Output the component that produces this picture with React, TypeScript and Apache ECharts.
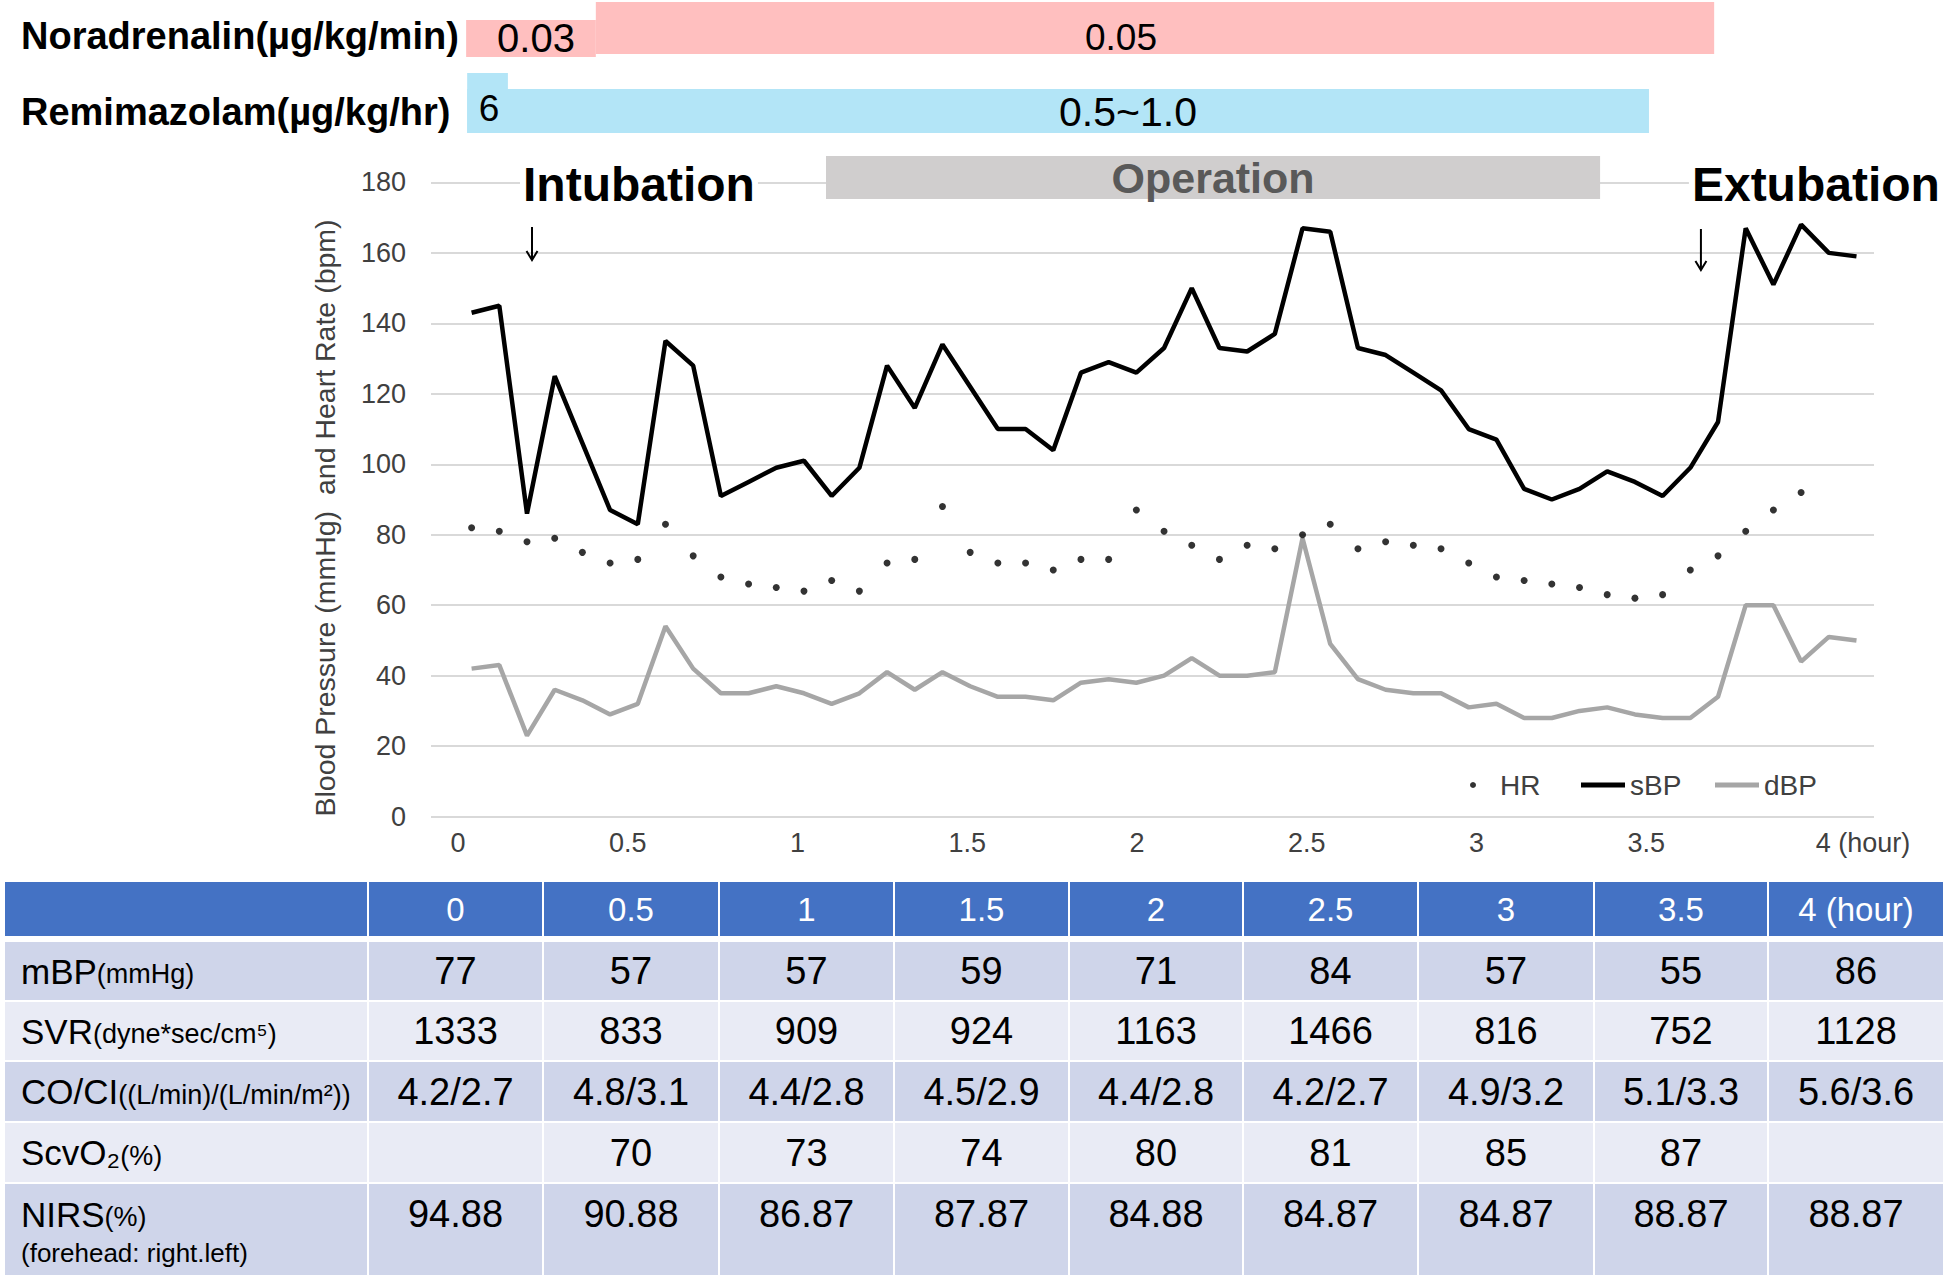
import React, { useEffect, useRef } from 'react';
import * as echarts from 'echarts';

const FONT = "'Liberation Sans', Arial, Helvetica, sans-serif";

// ---------- DATA (5-minute readings) ----------
const sbp = [143, 145, 86, 125, 106, 87, 83, 135, 128, 91, 95, 99, 101, 91, 99, 128, 116, 134, 122, 110,
  110, 104, 126, 129, 126, 133, 150, 133, 132, 137, 167, 166, 133, 131, 126, 121, 110, 107, 93, 90,
  93, 98, 95, 91, 99, 112, 167, 151, 168, 160, 159];
const dbp = [42, 43, 23, 36, 33, 29, 32, 54, 42, 35, 35, 37, 35, 32, 35, 41, 36, 41, 37, 34,
  34, 33, 38, 39, 38, 40, 45, 40, 40, 41, 79, 49, 39, 36, 35, 35, 31, 32, 28, 28,
  30, 31, 29, 28, 28, 34, 60, 60, 44, 51, 50];
const hr = [82, 81, 78, 79, 75, 72, 73, 83, 74, 68, 66, 65, 64, 67, 64, 72, 73, 88, 75, 72,
  72, 70, 73, 73, 87, 81, 77, 73, 77, 76, 80, 83, 76, 78, 77, 76, 72, 68, 67, 66,
  65, 63, 62, 63, 70, 74, 81, 87, 92, null, null];

const hourTicks = [0, 0.5, 1, 1.5, 2, 2.5, 3, 3.5, 4];
const yTicks = { min: 0, max: 180, interval: 20 };

// drug infusions / events (hours)
const noradrenalin = [
  { from: 0.024, to: 0.406, dose: '0.03' },
  { from: 0.406, to: 3.7, dose: '0.05' },
];
const remimazolam = [
  { from: 0.027, to: 0.147, dose: '6' },
  { from: 0.027, to: 3.508, dose: '0.5~1.0' },
];
const operation = { from: 1.084, to: 3.364, name: 'Operation' };
const events = [
  { name: 'Intubation', time: 0.218 },
  { name: 'Extubation', time: 3.661 },
];

// table
const tableHeaders = ['0', '0.5', '1', '1.5', '2', '2.5', '3', '3.5', '4 (hour)'];
const mbpValues = ['77', '57', '57', '59', '71', '84', '57', '55', '86'];
const svrValues = ['1333', '833', '909', '924', '1163', '1466', '816', '752', '1128'];
const coCiValues = ['4.2/2.7', '4.8/3.1', '4.4/2.8', '4.5/2.9', '4.4/2.8', '4.2/2.7', '4.9/3.2', '5.1/3.3', '5.6/3.6'];
const scvo2Values = ['', '70', '73', '74', '80', '81', '85', '87', ''];
const nirsValues = ['94.88', '90.88', '86.87', '87.87', '84.88', '84.87', '84.87', '88.87', '88.87'];

const tableRows = [
  { label: '{b|mBP}{s|(mmHg)}', values: mbpValues },
  { label: '{b|SVR}{s|(dyne*sec/cm⁵)}', values: svrValues },
  { label: '{b|CO/CI}{s|((L/min)/(L/min/m²))}', values: coCiValues },
  { label: '{b|ScvO₂}{s|(%)}', values: scvo2Values },
  { label: '{b|NIRS}{s|(%)}', values: nirsValues, note: '(forehead: right.left)' },
];

// ---------- LAYOUT ----------
const W = 1946;
const H = 1279;
const GRID = { left: 431, right: 72, top: 182.4, bottom: 462.4 };
const IDX_RANGE = { min: -1.466, max: 50.632 };
const HOUR_RANGE = { min: -0.0795, max: 4.1708 };
const COL_EDGES = [4, 368, 543, 719, 894, 1069, 1243, 1418, 1594, 1768, 1944];
const HEADER_BAND = [882, 936];
const ROW_BANDS = [[942, 1000], [1002, 1060], [1062, 1121], [1123, 1182], [1184, 1275]];
const ROW_FILLS = ['#CFD5EA', '#E9EBF5', '#CFD5EA', '#E9EBF5', '#CFD5EA'];
const AXIS_TEXT = '#404040';

export default function App() {
  const ref = useRef<HTMLDivElement>(null);

  useEffect(() => {
    if (!ref.current) return;
    const chart = echarts.init(ref.current, undefined, { renderer: 'svg', width: W, height: H });

    const legendBase = {
      top: 770,
      itemWidth: 44,
      itemHeight: 5,
      padding: 0,
      selectedMode: false,
      textStyle: { fontSize: 28, color: AXIS_TEXT, fontFamily: FONT, lineHeight: 30 },
    };

    const option: any = {
      animation: false,
      backgroundColor: '#ffffff',
      textStyle: { fontFamily: FONT },
      grid: { ...GRID, containLabel: false, outerBoundsMode: 'none' },
      xAxis: [
        { type: 'value', min: IDX_RANGE.min, max: IDX_RANGE.max, show: false },
        {
          type: 'value',
          min: HOUR_RANGE.min,
          max: HOUR_RANGE.max,
          position: 'bottom',
          axisLine: { show: false },
          axisTick: { show: false },
          splitLine: { show: false },
          axisLabel: {
            customValues: hourTicks,
            fontSize: 27,
            lineHeight: 32,
            margin: 10,
            color: AXIS_TEXT,
            fontFamily: FONT,
            formatter: (v: number) => (v === 4 ? '{h|4 (hour)}' : String(v)),
            rich: {
              h: { fontSize: 27, lineHeight: 32, color: AXIS_TEXT, fontFamily: FONT, padding: [0, 0, 0, 94] },
            },
          },
        },
      ],
      yAxis: {
        type: 'value',
        min: yTicks.min,
        max: yTicks.max,
        interval: yTicks.interval,
        axisLine: { show: false },
        axisTick: { show: false },
        splitLine: { show: true, lineStyle: { color: '#D9D9D9', width: 2 } },
        axisLabel: { fontSize: 27, color: AXIS_TEXT, margin: 25, fontFamily: FONT },
      },
      legend: [
        { ...legendBase, left: 1470, itemHeight: 6, data: [{ name: 'HR', icon: 'circle' }] },
        { ...legendBase, left: 1581, data: [{ name: 'sBP', icon: 'rect' }] },
        { ...legendBase, left: 1715, data: [{ name: 'dBP', icon: 'rect' }] },
      ],
      series: [
        {
          name: 'dBP',
          type: 'line',
          xAxisIndex: 0,
          symbol: 'none',
          showSymbol: false,
          lineStyle: { color: '#A6A6A6', width: 4.5 },
          itemStyle: { color: '#A6A6A6' },
          data: dbp.map((v, i) => [i, v]),
          z: 2,
        },
        {
          name: 'sBP',
          type: 'line',
          xAxisIndex: 0,
          symbol: 'none',
          showSymbol: false,
          lineStyle: { color: '#000000', width: 4.5 },
          itemStyle: { color: '#000000' },
          data: sbp.map((v, i) => [i, v]),
          z: 3,
        },
        {
          name: 'HR',
          type: 'scatter',
          xAxisIndex: 0,
          symbol: 'circle',
          symbolSize: 7,
          itemStyle: { color: '#000000' },
          data: hr.map((v, i) => (v == null ? null : [i, v])).filter((d) => d !== null),
          z: 4,
        },
      ],
    };

    chart.setOption(option);

    const px = (h: number) => chart.convertToPixel({ xAxisIndex: 1 }, h) as number;
    const g: any[] = [];
    const rect = (x: number, y: number, w: number, h: number, fill: string) =>
      g.push({ type: 'rect', z: 50, silent: true, shape: { x, y, width: w, height: h }, style: { fill } });
    const text = (x: number, y: number, t: string, style: any, extra: any = {}) =>
      g.push({
        type: 'text', z: 60, silent: true, x, y, ...extra,
        style: { text: t, fontFamily: FONT, fill: '#000', align: 'center', verticalAlign: 'middle', ...style },
      });
    const arrow = (x: number, y1: number, y2: number) => {
      g.push({
        type: 'line', z: 60, silent: true,
        shape: { x1: x, y1, x2: x, y2: y2 - 1 },
        style: { stroke: '#000', lineWidth: 2 },
      });
      g.push({
        type: 'polyline', z: 60, silent: true,
        shape: { points: [[x - 5.5, y2 - 9], [x, y2], [x + 5.5, y2 - 9]] },
        style: { stroke: '#000', lineWidth: 2, fill: null },
      });
    };

    // Top infusion bars
    const noraY = [[20, 37], [2, 52]];
    noradrenalin.forEach((s, i) => rect(px(s.from), noraY[i][0], px(s.to) - px(s.from), noraY[i][1], '#FFBFBF'));
    const remiY = [[89, 44], [73, 60]];
    [remimazolam[1], remimazolam[0]].forEach((s, i) =>
      rect(px(s.from), remiY[i][0], px(s.to) - px(s.from), remiY[i][1], '#B3E5F7'));
    rect(px(operation.from), 156, px(operation.to) - px(operation.from), 43, '#D0CECE');

    text(21, 36, 'Noradrenalin(µg/kg/min)', { fontSize: 38, fontWeight: 'bold', align: 'left' });
    text(21, 112, 'Remimazolam(µg/kg/hr)', { fontSize: 38, fontWeight: 'bold', align: 'left' });
    text(536, 38, noradrenalin[0].dose, { fontSize: 40 });
    text(1121, 37, noradrenalin[1].dose, { fontSize: 37 });
    text(489, 108, remimazolam[0].dose, { fontSize: 37 });
    text(1128, 112, remimazolam[1].dose, { fontSize: 41 });
    text((px(operation.from) + px(operation.to)) / 2, 178, operation.name,
      { fontSize: 43, fontWeight: 'bold', fill: '#595959' });

    // Events
    const arrowSpan = [[227, 260], [229, 270]];
    events.forEach((e, i) => {
      const ax = px(e.time);
      text(ax - 12, 184, e.name, {
        fontSize: 48, fontWeight: 'bold', align: 'left', backgroundColor: '#ffffff', padding: [0, 3],
      });
      arrow(ax, arrowSpan[i][0], arrowSpan[i][1]);
    });

    // Y axis title
    text(325, 518, 'Blood Pressure (mmHg)  and Heart Rate (bpm)', { fontSize: 28.5, fill: AXIS_TEXT },
      { rotation: Math.PI / 2 });

    // Table
    const nCols = COL_EDGES.length - 1;
    const colCenter = (c: number) => (COL_EDGES[c] + COL_EDGES[c + 1]) / 2;
    for (let c = 0; c < nCols; c++) {
      rect(COL_EDGES[c] + 1, HEADER_BAND[0], COL_EDGES[c + 1] - COL_EDGES[c] - 2, HEADER_BAND[1] - HEADER_BAND[0], '#4472C4');
    }
    tableHeaders.forEach((h, i) =>
      text(colCenter(i + 1), (HEADER_BAND[0] + HEADER_BAND[1]) / 2, h, { fontSize: 33, fill: '#ffffff' }));

    const labelRich = {
      b: { fontSize: 35, lineHeight: 42, fontFamily: FONT, fill: '#000' },
      s: { fontSize: 27, lineHeight: 42, fontFamily: FONT, fill: '#000', padding: [6, 0, 0, 0] },
    };

    tableRows.forEach((row, r) => {
      const [top, bottom] = ROW_BANDS[r];
      for (let c = 0; c < nCols; c++) {
        rect(COL_EDGES[c] + 1, top, COL_EDGES[c + 1] - COL_EDGES[c] - 2, bottom - top, ROW_FILLS[r]);
      }
      const cy = row.note ? 1214 : (top + bottom) / 2;
      text(21, cy, row.label, { align: 'left', rich: labelRich });
      if (row.note) text(21, 1253, row.note, { fontSize: 26, align: 'left' });
      row.values.forEach((v, i) => {
        if (v !== '') text(colCenter(i + 1), cy, v, { fontSize: 38 });
      });
    });

    chart.setOption({ graphic: { elements: g } });

    return () => chart.dispose();
  }, []);

  return (
    <div
      ref={ref}
      style={{ position: 'absolute', left: 0, top: 0, width: W, height: H, background: '#fff' }}
    />
  );
}
